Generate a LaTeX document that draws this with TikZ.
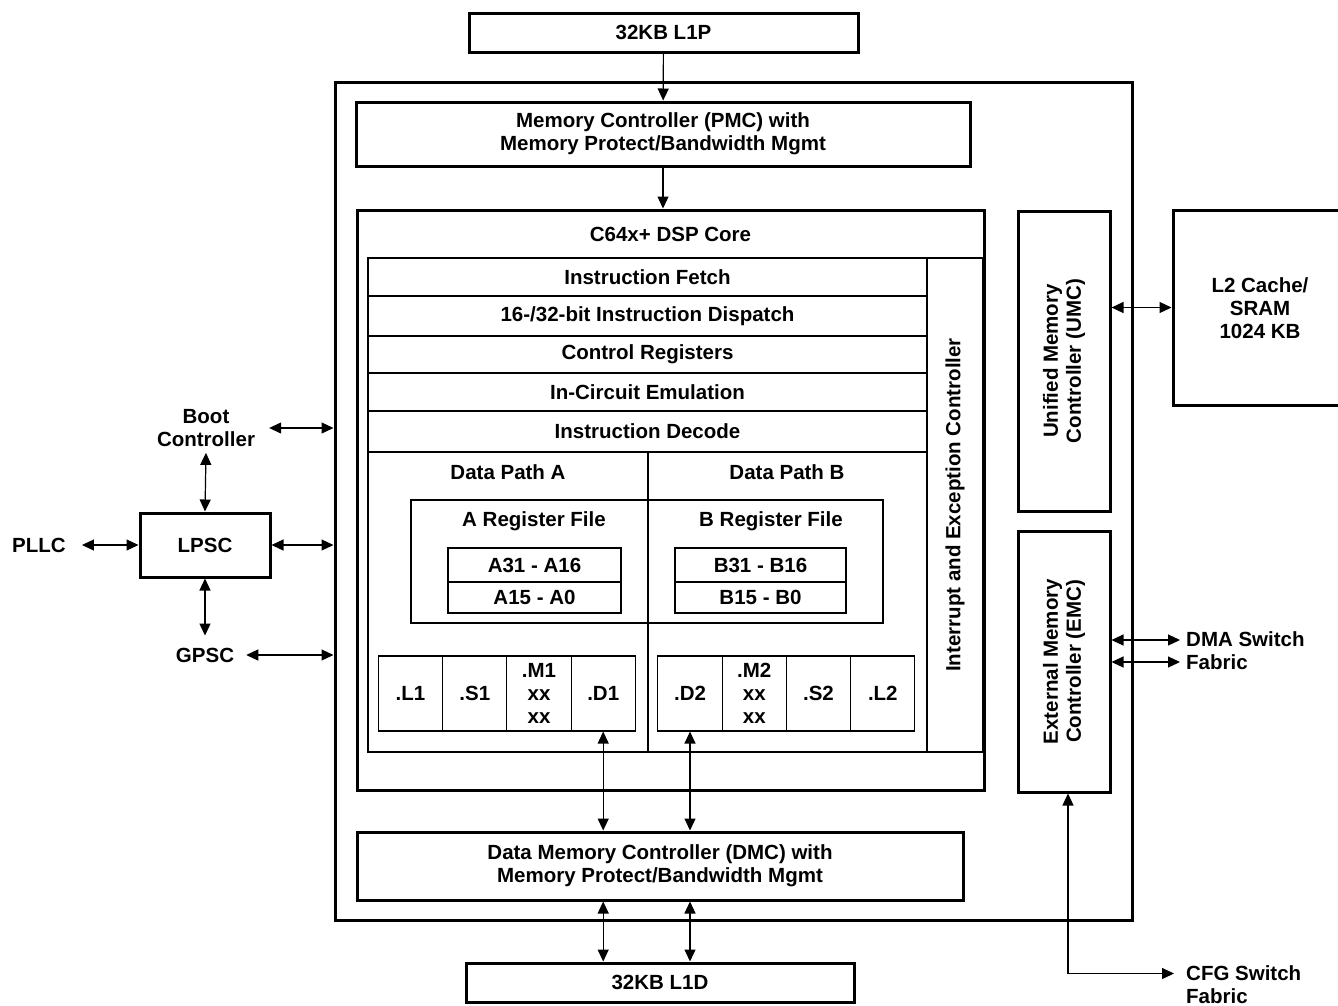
\documentclass[tikz,border=0pt]{standalone}
\usepackage{fontspec}
\setmainfont{Liberation Sans}
\usetikzlibrary{arrows.meta, positioning}

\tikzset{
  every node/.style={font=\bfseries\fontsize{20.5}{23}\selectfont, align=center, inner sep=0pt},
  thickbox/.style={draw, line width=3pt},
  thinbox/.style={draw, line width=1.1pt},
  regbox/.style={draw, line width=1.4pt},
  lbl/.style={inner xsep=14pt, inner ysep=6pt},
  link/.style={line width=1.2pt, -{Triangle[length=12pt,width=11pt]}},
  dbl/.style={line width=1.2pt, {Triangle[length=12pt,width=11pt]}-{Triangle[length=12pt,width=11pt]}}
}

\begin{document}
\begin{tikzpicture}[x=1pt,y=-1pt]
        \useasboundingbox (0,0) rectangle (1338,1005);
        % outer megamodule frame
        \node [thickbox, minimum width=797pt, minimum height=838pt] (outer) at (733.5,501) {};
        \node [thickbox, minimum width=389pt, minimum height=39pt] (lonep) at (663.5,32.5) {32KB L1P};
        \node [thickbox, minimum width=614pt, minimum height=64pt] (pmc) at (663,134) {Memory Controller (PMC) with\\Memory Protect/Bandwidth Mgmt};
        \node [thickbox, minimum width=627pt, minimum height=580pt] (core) at (670.5,500) {};
        \node (coretitle) at (670.5,234) {C64x+ DSP Core};
        \node [thickbox, minimum width=606pt, minimum height=68pt] (dmc) at (660,866) {Data Memory Controller (DMC) with\\Memory Protect/Bandwidth Mgmt};
        \node [thickbox, minimum width=388pt, minimum height=39pt] (lone) at (660,982.5) {32KB L1D};
        % memory controllers on the right
        \node [thickbox, minimum width=92pt, minimum height=300pt] (umc) at (1064,361) {};
        \node [rotate=90] at (umc.center) {Unified Memory\\Controller (UMC)};
        \node [thickbox, minimum width=92pt, minimum height=261pt] (emc) at (1064,661.5) {};
        \node [rotate=90] at (emc.center) {External Memory\\Controller (EMC)};
        \node [thickbox, minimum width=172pt, minimum height=195pt] (ltwo) at (1259,307.5) {};
        \node at (1260,308) {L2 Cache/\\SRAM\\1024 KB};
        % core pipeline rows
        \node [thinbox, minimum width=615pt, minimum height=494pt] (inner) at (675.5,505) {};
        \node [thinbox, minimum width=56pt, minimum height=494pt] (intc) at (955,505) {};
        \node [rotate=90] at (intc.center) {Interrupt and Exception Controller};
        \node [thinbox, minimum width=559pt, minimum height=38pt] (fetch) at (647.5,277) {Instruction Fetch};
        \node [thinbox, minimum width=559pt, minimum height=40pt] (dispatch) at (647.5,316) {16-/32-bit Instruction Dispatch};
        \node [thinbox, minimum width=559pt, minimum height=37pt] (ctrl) at (647.5,354.5) {Control Registers};
        \node [thinbox, minimum width=559pt, minimum height=38pt] (ice) at (647.5,392) {In-Circuit Emulation};
        \node [thinbox, minimum width=559pt, minimum height=41pt] (decode) at (647.5,431.5) {Instruction Decode};
        \draw [line width=1.1pt] (648,452) -- (648,752);
        \node (patha) at (508,472) {Data Path A};
        \node (pathb) at (787,472) {Data Path B};
        % register files
        \node [regbox, minimum width=472pt, minimum height=123pt] (regf) at (647,561.5) {};
        \node (rega) at (534,521) {A Register File};
        \node (regb) at (771,521) {B Register File};
        \node [regbox, minimum width=173pt, minimum height=34pt] (ahi) at (534.5,565) {A31 - A16};
        \node [regbox, minimum width=173pt, minimum height=31pt] (alo) at (534.5,597.5) {A15 - A0};
        \node [regbox, minimum width=171pt, minimum height=34pt] (bhi) at (760.5,565) {B31 - B16};
        \node [regbox, minimum width=171pt, minimum height=31pt] (blo) at (760.5,597.5) {B15 - B0};
        % functional units
        \node [thinbox, minimum width=64.25pt, minimum height=75pt] (lunitA) at (410.5,693.5) {.L1};
        \node [thinbox, minimum width=64.25pt, minimum height=75pt] (sunitA) at (474.8,693.5) {.S1};
        \node [thinbox, minimum width=64.25pt, minimum height=75pt] (munitA) at (539,693.5) {.M1\\xx\\xx};
        \node [thinbox, minimum width=64.25pt, minimum height=75pt] (dunitA) at (603.2,693.5) {.D1};
        \node [thinbox, minimum width=64.25pt, minimum height=75pt] (dunitB) at (690,693.5) {.D2};
        \node [thinbox, minimum width=64.25pt, minimum height=75pt] (munitB) at (754.3,693.5) {.M2\\xx\\xx};
        \node [thinbox, minimum width=64.25pt, minimum height=75pt] (sunitB) at (818.5,693.5) {.S2};
        \node [thinbox, minimum width=64.25pt, minimum height=75pt] (lunitB) at (882.8,693.5) {.L2};
        % power and boot blocks on the left
        \node [thickbox, minimum width=130pt, minimum height=64pt] (lpsc) at (205,545) {LPSC};
        \node [lbl] (boot) at (206,428) {Boot\\Controller};
        \node [lbl, inner xsep=16pt] (pllc) at (39,545) {PLLC};
        \node [lbl, inner xsep=12pt, inner ysep=12pt] (gpsc) at (205,655) {GPSC};
        % outside labels on the right
        \node [anchor=west, align=left] (dma) at (1186,651) {DMA Switch\\Fabric};
        \node [anchor=west, align=left] (cfg) at (1186,984.5) {CFG Switch\\Fabric};
        % connections
        \draw [link] (lonep) -- (pmc);
        \draw [link] (pmc.south) -- (pmc.south |- core.north);
        \draw [dbl] (dunitA.south) -- (dunitA.south |- dmc.north);
        \draw [dbl] (dunitB.south) -- (dunitB.south |- dmc.north);
        \draw [dbl] (dmc.south -| dunitA.south) -- (lone.north -| dunitA.south);
        \draw [dbl] (dmc.south -| dunitB.south) -- (lone.north -| dunitB.south);
        \draw [dbl] (ltwo.west -| umc.east) -- (ltwo.west);
        \draw [dbl] ([yshift=11pt]dma.west -| emc.east) -- ([yshift=11pt,xshift=-6pt]dma.west);
        \draw [dbl] ([yshift=-11pt]dma.west -| emc.east) -- ([yshift=-11pt,xshift=-6pt]dma.west);
        \draw [dbl] ([xshift=4pt]emc.south) |- ([yshift=11pt,xshift=-12pt]cfg.west);
        \draw [dbl] (boot.south) -- (lpsc.north);
        \draw [dbl] (lpsc.south) -- (gpsc.north);
        \draw [dbl] (pllc.east) -- (lpsc.west);
        \draw [dbl] (lpsc.east) -- (lpsc.east -| outer.west);
        \draw [dbl] (boot.east) -- (boot.east -| outer.west);
        \draw [dbl] (gpsc.east) -- (gpsc.east -| outer.west);
\end{tikzpicture}
\end{document}
